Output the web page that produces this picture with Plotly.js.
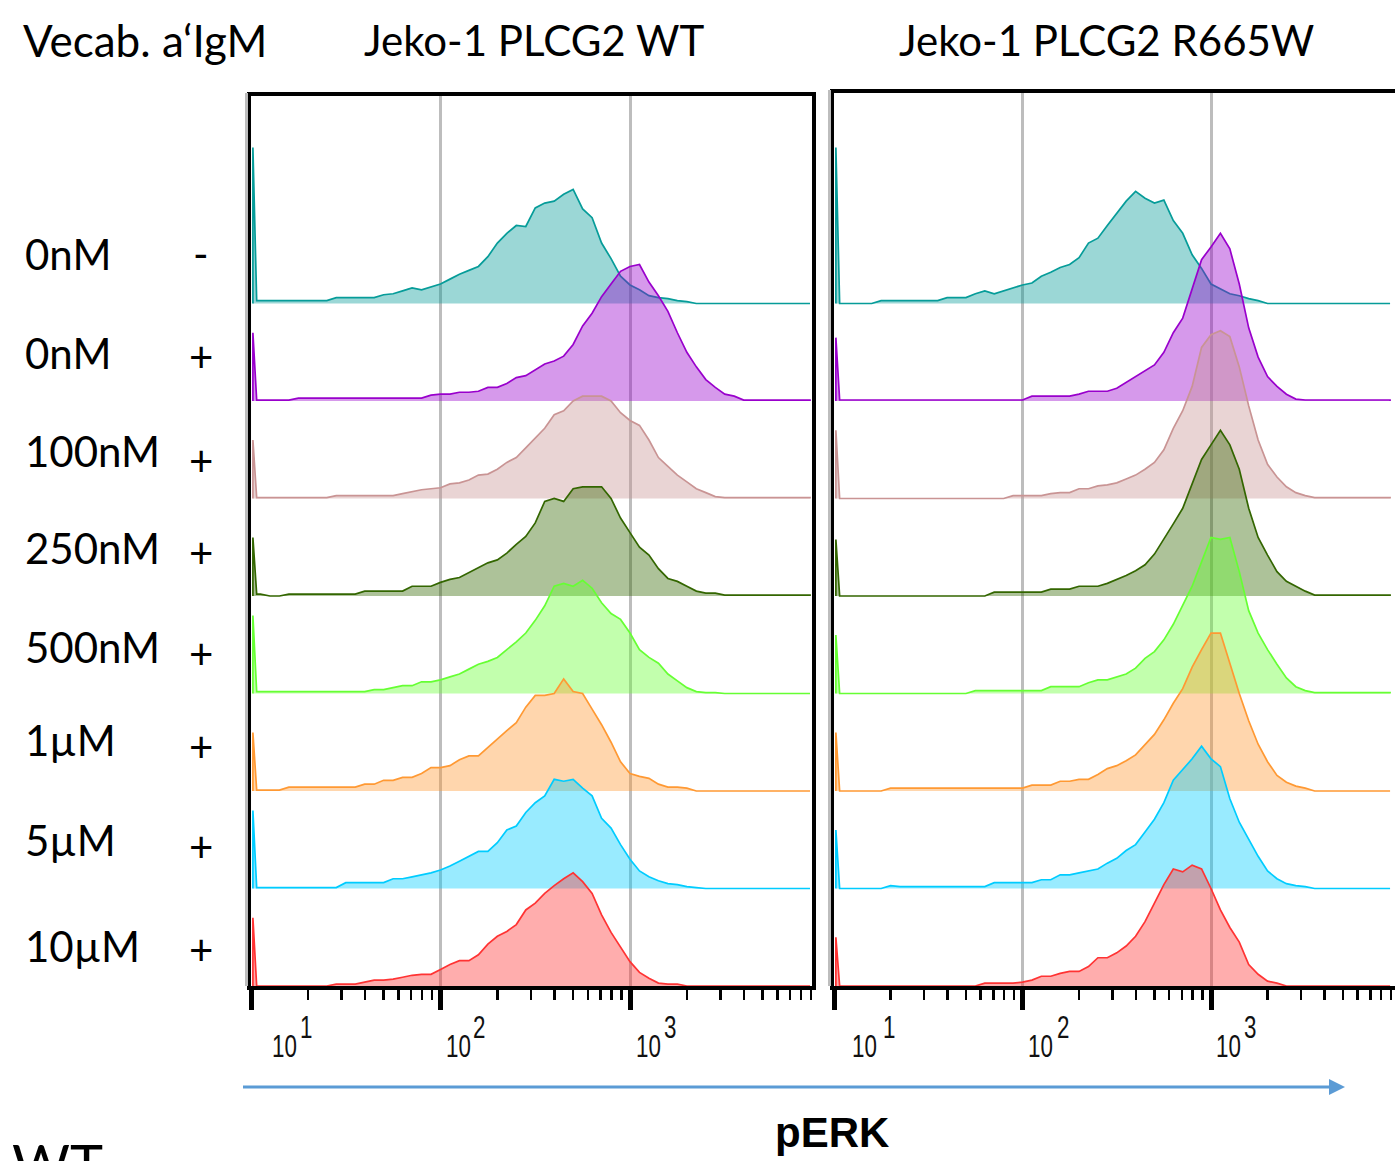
<!DOCTYPE html>
<html>
<head>
<meta charset="utf-8">
<script src="https://cdn.plot.ly/plotly-3.0.1.min.js"></script>
<style>
html,body{margin:0;padding:0;background:#fff;}
#chart{width:1395px;height:1161px;}
</style>
</head>
<body>
<div id="chart"></div>
<script>
// pERK intensity bins (log10 of channel value)
const binExponents = [1.01, 1.03,
  1.05,1.10,1.15,1.20,1.25,1.30,1.35,1.40,1.45,1.50,
  1.55,1.60,1.65,1.70,1.75,1.80,1.85,1.90,1.95,2.00,
  2.05,2.10,2.15,2.20,2.25,2.30,2.35,2.40,2.45,2.50,
  2.55,2.60,2.65,2.70,2.75,2.80,2.85,2.90,2.95,3.00,
  3.05,3.10,3.15,3.20,3.25,3.30,3.35,3.40,3.45,3.50,
  3.55,3.60,3.65,3.70,3.75,3.80,3.85,3.90,3.95];

const vecabDose = ['0nM','0nM','100nM','250nM','500nM','1µM','5µM','10µM'];
const aIgM = ['-','+','+','+','+','+','+','+'];
const panelTitles = ['Jeko-1 PLCG2 WT','Jeko-1 PLCG2 R665W'];
const rowColors = ['#069C99','#9900CC','#C99494','#336600','#66FF33','#FF9933','#00CCFF','#FF3333'];

// Jeko-1 PLCG2 WT (normalized counts, top row to bottom row)
const wt0nMNoIgM = [1.6, 0.03,
  0.03,0.03,0.03,0.03,0.03,0.03,0.03,0.03,0.06,0.06,
  0.06,0.06,0.06,0.09,0.10,0.13,0.16,0.14,0.17,0.20,
  0.25,0.30,0.34,0.38,0.48,0.62,0.72,0.80,0.79,0.98,
  1.03,1.05,1.12,1.17,0.97,0.88,0.62,0.46,0.28,0.19,
  0.14,0.08,0.06,0.05,0.03,0.02,0,0,0,0,
  0,0,0,0,0,0,0,0,0];
const wt0nM = [0.7, 0.01,
  0.01,0.01,0.01,0.01,0.03,0.03,0.03,0.03,0.03,0.03,
  0.03,0.03,0.03,0.03,0.03,0.03,0.03,0.03,0.06,0.07,
  0.07,0.09,0.09,0.10,0.14,0.14,0.18,0.24,0.26,0.32,
  0.38,0.41,0.46,0.58,0.77,0.90,1.07,1.20,1.33,1.38,
  1.40,1.22,1.08,0.92,0.70,0.50,0.35,0.22,0.14,0.07,
  0.05,0.01,0.01,0.01,0.01,0.01,0.01,0.01,0.01];
const wt100nM = [0.6, 0.01,
  0.01,0.01,0.01,0.01,0.01,0.01,0.01,0.01,0.03,0.03,
  0.03,0.03,0.03,0.03,0.03,0.05,0.07,0.09,0.10,0.11,
  0.15,0.16,0.19,0.24,0.25,0.30,0.37,0.42,0.52,0.62,
  0.72,0.86,0.90,1.00,1.05,1.05,1.05,1.00,0.88,0.80,
  0.75,0.60,0.42,0.33,0.24,0.17,0.10,0.06,0.02,0.01,
  0.01,0.01,0.01,0.01,0.01,0.01,0.01,0.01,0.01];
const wt250nM = [0.6, 0.02,
  0.02,0,0,0.02,0.02,0.02,0.02,0.02,0.02,0.02,
  0.02,0.05,0.05,0.05,0.05,0.05,0.10,0.10,0.10,0.14,
  0.17,0.19,0.24,0.29,0.34,0.37,0.44,0.53,0.61,0.75,
  0.97,1.00,0.97,1.10,1.12,1.12,1.12,1.00,0.80,0.65,
  0.50,0.42,0.28,0.18,0.15,0.10,0.05,0.03,0.03,0.01,
  0.01,0.01,0.01,0.01,0.01,0.01,0.01,0.01,0.01];
const wt500nM = [0.8, 0.02,
  0.02,0.02,0.02,0.02,0.02,0.02,0.02,0.02,0.02,0.02,
  0.02,0.02,0.04,0.04,0.06,0.08,0.08,0.12,0.12,0.14,
  0.17,0.20,0.25,0.30,0.33,0.37,0.45,0.53,0.62,0.75,
  0.90,1.10,1.13,1.10,1.16,1.08,0.93,0.82,0.76,0.62,
  0.45,0.37,0.31,0.20,0.13,0.06,0.02,0.01,0.01,0,
  0,0,0,0,0,0,0,0,0];
const wt1uM = [0.6, 0.01,
  0.01,0.01,0.01,0.04,0.04,0.04,0.04,0.04,0.04,0.04,
  0.04,0.07,0.07,0.11,0.11,0.14,0.14,0.18,0.24,0.24,
  0.26,0.32,0.36,0.36,0.45,0.53,0.62,0.70,0.86,0.98,
  0.98,1.00,1.15,1.02,1.00,0.84,0.68,0.50,0.30,0.18,
  0.15,0.13,0.07,0.04,0.04,0.03,0,0,0,0,
  0,0,0,0,0,0,0,0,0];
const wt5uM = [0.8, 0.01,
  0.01,0.01,0.01,0.01,0.01,0.01,0.01,0.01,0.01,0.06,
  0.06,0.06,0.06,0.06,0.10,0.10,0.12,0.14,0.16,0.19,
  0.23,0.28,0.33,0.38,0.38,0.47,0.60,0.64,0.78,0.88,
  0.95,1.12,1.10,1.12,1.03,0.95,0.72,0.62,0.45,0.30,
  0.18,0.12,0.08,0.05,0.04,0.02,0.01,0,0,0,
  0,0,0,0,0,0,0,0,0];
const wt10uM = [0.7, 0,
  0,0,0,0,0,0,0,0,0.02,0.02,
  0.02,0.04,0.06,0.06,0.07,0.09,0.11,0.12,0.12,0.17,
  0.22,0.26,0.26,0.32,0.43,0.51,0.56,0.63,0.78,0.85,
  0.95,1.03,1.10,1.16,1.07,0.95,0.73,0.55,0.40,0.25,
  0.14,0.08,0.03,0.02,0.02,0,0,0,0,0,
  0,0,0,0,0,0,0,0,0];

// Jeko-1 PLCG2 R665W
const mut0nMNoIgM = [1.6, 0,
  0,0,0,0,0.03,0.03,0.03,0.03,0.03,0.03,
  0.03,0.06,0.06,0.06,0.10,0.13,0.10,0.13,0.16,0.19,
  0.21,0.28,0.32,0.37,0.40,0.47,0.62,0.67,0.80,0.92,
  1.05,1.15,1.08,1.03,1.06,0.85,0.72,0.50,0.36,0.20,
  0.15,0.10,0.08,0.05,0.03,0,0,0,0,0,
  0,0,0,0,0,0,0,0,0];
const mut0nM = [0.65, 0.01,
  0.01,0.01,0.01,0.01,0.01,0.01,0.01,0.01,0.01,0.01,
  0.01,0.01,0.01,0.01,0.01,0.01,0.01,0.01,0.01,0.01,
  0.05,0.05,0.05,0.05,0.05,0.07,0.10,0.10,0.10,0.13,
  0.19,0.25,0.31,0.37,0.50,0.70,0.85,1.15,1.45,1.58,
  1.72,1.56,1.20,0.75,0.45,0.25,0.15,0.07,0.02,0.01,
  0.01,0.01,0.01,0.01,0.01,0.01,0.01,0.01,0.01];
const mut100nM = [0.7, 0,
  0,0,0,0,0,0,0,0,0,0,
  0,0,0,0,0,0,0,0,0.03,0.03,
  0.03,0.03,0.05,0.06,0.06,0.10,0.10,0.13,0.14,0.16,
  0.20,0.24,0.30,0.37,0.50,0.72,0.90,1.15,1.55,1.68,
  1.72,1.66,1.35,0.95,0.60,0.35,0.22,0.12,0.06,0.03,
  0.01,0.01,0.01,0.01,0.01,0.01,0.01,0.01,0.01];
const mut250nM = [0.58, 0,
  0,0,0,0,0,0,0,0,0,0,
  0,0,0,0,0,0,0.04,0.04,0.04,0.04,
  0.04,0.04,0.07,0.07,0.07,0.10,0.10,0.10,0.13,0.17,
  0.21,0.26,0.32,0.43,0.58,0.74,0.90,1.15,1.40,1.55,
  1.70,1.55,1.30,0.90,0.60,0.42,0.25,0.15,0.10,0.05,
  0.01,0.01,0.01,0.01,0.01,0.01,0.01,0.01,0.01];
const mut500nM = [0.6, 0,
  0,0,0,0,0,0,0,0,0,0,
  0,0,0,0,0.03,0.03,0.03,0.03,0.03,0.03,
  0.03,0.03,0.07,0.07,0.07,0.07,0.11,0.14,0.14,0.17,
  0.20,0.26,0.36,0.43,0.55,0.71,0.90,1.10,1.35,1.60,
  1.58,1.60,1.25,0.85,0.62,0.45,0.30,0.16,0.07,0.03,
  0.01,0.01,0.01,0.01,0.01,0.01,0.01,0.01,0.01];
const mut1uM = [0.6, 0,
  0,0,0,0,0,0.03,0.03,0.03,0.03,0.03,
  0.03,0.03,0.03,0.03,0.03,0.03,0.03,0.03,0.03,0.03,
  0.06,0.06,0.06,0.10,0.10,0.12,0.12,0.17,0.23,0.26,
  0.31,0.37,0.48,0.58,0.73,0.90,1.05,1.27,1.45,1.62,
  1.62,1.30,1.00,0.72,0.48,0.30,0.16,0.09,0.05,0.03,
  0,0,0,0,0,0,0,0,0];
const mut5uM = [0.6, 0,
  0,0,0,0,0,0.03,0.02,0.02,0.02,0.02,
  0.02,0.02,0.02,0.02,0.02,0.02,0.06,0.06,0.06,0.06,
  0.06,0.09,0.09,0.14,0.14,0.16,0.18,0.20,0.26,0.31,
  0.39,0.45,0.58,0.71,0.88,1.11,1.22,1.33,1.46,1.33,
  1.25,0.92,0.68,0.50,0.33,0.18,0.10,0.05,0.03,0.02,
  0,0,0,0,0,0,0,0,0];
const mut10uM = [0.5, 0,
  0,0,0,0,0,0,0,0,0,0,
  0,0,0,0,0,0.03,0.03,0.03,0.03,0.04,
  0.06,0.10,0.10,0.13,0.15,0.15,0.20,0.29,0.29,0.34,
  0.41,0.51,0.66,0.85,1.04,1.20,1.17,1.24,1.20,1.00,
  0.78,0.60,0.45,0.22,0.12,0.05,0.03,0,0,0,
  0,0,0,0,0,0,0,0,0];

const wtSeries = [wt0nMNoIgM, wt0nM, wt100nM, wt250nM, wt500nM, wt1uM, wt5uM, wt10uM];
const mutSeries = [mut0nMNoIgM, mut0nM, mut100nM, mut250nM, mut500nM, mut1uM, mut5uM, mut10uM];
const rowOffsets = [7,6,5,4,3,2,1,0];
const majorTickVals = [10,100,1000];
const minorTickVals = [20,30,40,50,60,70,80,90,200,300,400,500,600,700,800,900,2000,3000,4000,5000,6000,7000,8000,9000];

[...wtSeries, ...mutSeries].forEach((s, i) => {
  if (s.length !== binExponents.length) throw new Error('series ' + i + ' has ' + s.length + ' values, expected ' + binExponents.length);
});

const W = 1395, H = 1161;
const px = x => x / W;
const py = y => 1 - y / H;

function rgba(hex, a) {
  const r = parseInt(hex.slice(1,3),16), g = parseInt(hex.slice(3,5),16), b = parseInt(hex.slice(5,7),16);
  return 'rgba(' + r + ',' + g + ',' + b + ',' + a + ')';
}

function buildTrace(values, offset, color, xa, ya) {
  const n = binExponents.length;
  const xs = [Math.pow(10, binExponents[0])], ys = [offset];
  for (let i = 0; i < n; i++) { xs.push(Math.pow(10, binExponents[i])); ys.push(offset + values[i]); }
  xs.push(Math.pow(10, binExponents[n-1])); ys.push(offset);
  return {type:'scatter', mode:'lines', x:xs, y:ys, xaxis:xa, yaxis:ya,
    fill:'toself', fillcolor:rgba(color,0.4), line:{color:color, width:1.7}, hoverinfo:'skip'};
}

const traces = [];
wtSeries.forEach((s,i) => traces.push(buildTrace(s, rowOffsets[i], rowColors[i], 'x', 'y')));
mutSeries.forEach((s,i) => traces.push(buildTrace(s, rowOffsets[i], rowColors[i], 'x2', 'y2')));

const labelFont = {family:'Lato, "Open Sans", sans-serif', size:42, color:'#000'};
const tickFont = {family:'"Liberation Sans", Arial, sans-serif', size:32, color:'#111'};

function xAxisBase(domain, range) {
  return {domain:domain, type:'log', range:range, showline:true, linewidth:4, linecolor:'#000', mirror:true,
    tickmode:'array', tickvals:majorTickVals, ticks:'outside', ticklen:20, tickwidth:5, tickcolor:'#000',
    showticklabels:false, showgrid:true, gridcolor:'#BDBDBD', gridwidth:3, zeroline:false,
    minor:{tickmode:'array', tickvals:minorTickVals, ticks:'outside', ticklen:10, tickwidth:2.5, tickcolor:'#000', showgrid:false}};
}
function yAxisBase(domain, range, mirror) {
  return {domain:domain, range:range, showline:true, linewidth:4, linecolor:'#000', mirror:mirror,
    showticklabels:false, ticks:'', showgrid:false, zeroline:false};
}

// small vertical nudges (px) so each row label sits where the reference places it
const doseNudge = [4, 2, 2, 2, 1, 5, 3, -6];
const signNudge = [7, 1, -5, 0, -3, 1, -1, -7];

const annotations = [];
annotations.push({text:'Vecab. a‘IgM', xref:'paper', yref:'paper', x:px(21), y:py(40), xanchor:'left', yanchor:'middle', showarrow:false, font:Object.assign({}, labelFont, {size:44})});
annotations.push({text:panelTitles[0], xref:'paper', yref:'paper', x:px(534), y:py(40), xanchor:'center', yanchor:'middle', showarrow:false, font:labelFont});
annotations.push({text:panelTitles[1], xref:'paper', yref:'paper', x:px(1106), y:py(40), xanchor:'center', yanchor:'middle', showarrow:false, font:labelFont});
vecabDose.forEach((d,i) => {
  annotations.push({text:d, xref:'paper', yref:'y', x:px(23), y:rowOffsets[i]+0.47, yshift:doseNudge[i], xanchor:'left', yanchor:'middle', showarrow:false, font:labelFont});
  annotations.push({text:aIgM[i], xref:'paper', yref:'y', x:px(201), y:rowOffsets[i]+0.45, yshift:signNudge[i], xanchor:'center', yanchor:'middle', showarrow:false, font:labelFont});
});
// decade tick labels: "10" with raised exponent
const decadeExps = [1,2,3];
const baseShift = {x:[19,3,4], x2:[16,3,3]};
const expShift = {x:[47,30,32], x2:[47,32,31]};
['x','x2'].forEach(ax => {
  decadeExps.forEach((e,k) => {
    annotations.push({text:'10', xref:ax, yref:'paper', x:e, y:py(1046), xanchor:'left', yanchor:'middle', xshift:baseShift[ax][k], showarrow:false, font:tickFont});
    annotations.push({text:String(e), xref:ax, yref:'paper', x:e, y:py(1027), xanchor:'left', yanchor:'middle', xshift:expShift[ax][k], showarrow:false, font:tickFont});
  });
});
annotations.push({text:'<b>pERK</b>', xref:'paper', yref:'paper', x:px(832), y:py(1132), xanchor:'center', yanchor:'middle', showarrow:false,
  font:{family:'"Liberation Sans", Arial, sans-serif', size:42, color:'#000'}});
annotations.push({text:'WT', xref:'paper', yref:'paper', x:px(10), y:py(1163), xanchor:'left', yanchor:'middle', showarrow:false,
  font:{family:'Lato, sans-serif', size:56, color:'#000'}});

const shapes = [
  {type:'line', xref:'paper', yref:'paper', x0:px(246.5), x1:px(246.5), y0:py(986), y1:py(93), line:{color:'#BDBDBD', width:3}},
  {type:'line', xref:'paper', yref:'paper', x0:px(829.5), x1:px(829.5), y0:py(986), y1:py(90), line:{color:'#BDBDBD', width:3}},
  {type:'line', xref:'paper', yref:'paper', x0:px(243), x1:px(1332), y0:py(1087), y1:py(1087), line:{color:'#5B9BD5', width:3}},
  {type:'path', xref:'paper', yref:'paper', path:'M '+px(1329)+','+py(1079)+' L '+px(1345)+','+py(1087)+' L '+px(1329)+','+py(1095)+' Z', fillcolor:'#5B9BD5', line:{color:'#5B9BD5', width:0}}
];

const layout = {
  width:W, height:H, margin:{l:0,r:0,t:0,b:0}, showlegend:false,
  paper_bgcolor:'#ffffff', plot_bgcolor:'rgba(0,0,0,0)',
  xaxis: xAxisBase([px(251), px(812)], [1.0, 1 + (812-251)/189.5]),
  yaxis: Object.assign(yAxisBase([py(986), py(96)], [0, (986-96)/97.5], true), {anchor:'x'}),
  xaxis2: Object.assign(xAxisBase([px(834), 1], [1.0, 1 + (1395-834)/188.5]), {anchor:'y2'}),
  yaxis2: Object.assign(yAxisBase([py(986), py(93)], [0, (986-93)/97.5], false), {anchor:'x2'}),
  annotations:annotations, shapes:shapes
};

Plotly.newPlot('chart', traces, layout, {displayModeBar:false, staticPlot:true}).then(() => {
  // the reference uses a condensed face for the decade labels: narrow them horizontally
  const tickTexts = new Set(['10','1','2','3']);
  document.querySelectorAll('text.annotation-text').forEach(t => {
    if (tickTexts.has(t.textContent)) {
      t.style.transformBox = 'fill-box';
      t.style.transformOrigin = 'left center';
      t.style.transform = 'scaleX(0.7)';
    }
  });
});
</script>
</body>
</html>
